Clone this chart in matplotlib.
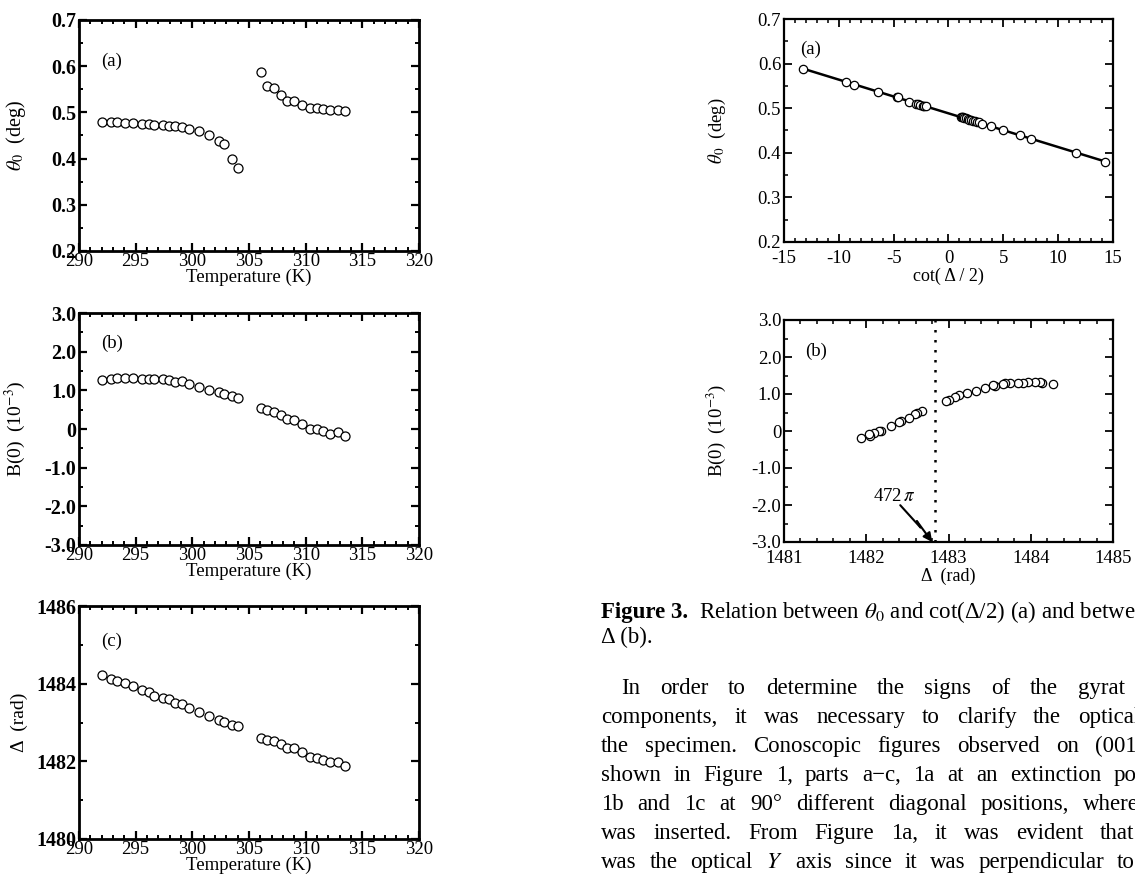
import numpy as np
import matplotlib
matplotlib.use('Agg')
import matplotlib.pyplot as plt
from matplotlib.ticker import MultipleLocator, FuncFormatter
from matplotlib.transforms import offset_copy

# ---- data ----
# temperature (K), low-T branch and high-T branch
temp_lo = [292.05, 292.79, 293.38, 294.05, 294.78, 295.55, 296.16, 296.66, 297.37, 297.95,
           298.45, 299.13, 299.74, 300.57, 301.48, 302.33, 302.83, 303.50, 304.06]
temp_hi = [306.06, 306.58, 307.20, 307.79, 308.37, 308.99, 309.70, 310.34, 310.99, 311.57,
           312.16, 312.81, 313.51]

# theta_0 (deg)
theta_lo = [0.480, 0.480, 0.480, 0.478, 0.477, 0.475, 0.474, 0.473, 0.472, 0.471,
            0.470, 0.468, 0.465, 0.460, 0.451, 0.439, 0.432, 0.399, 0.379]
theta_hi = [0.588, 0.558, 0.553, 0.537, 0.525, 0.524, 0.515, 0.509, 0.509, 0.507,
            0.506, 0.506, 0.504]

# B(0) (10^-3)
b_lo = [1.27, 1.30, 1.32, 1.32, 1.32, 1.30, 1.30, 1.29, 1.29, 1.26,
        1.22, 1.23, 1.17, 1.08, 1.02, 0.96, 0.91, 0.85, 0.81]
b_hi = [0.54, 0.48, 0.45, 0.36, 0.26, 0.24, 0.13, 0.00, -0.00, -0.06,
        -0.13, -0.08, -0.19]

# Delta (rad) vs temperature, Fig 2(c)
delta_lo = [1484.22, 1484.11, 1484.08, 1484.01, 1483.93, 1483.84, 1483.78, 1483.68, 1483.62, 1483.60,
            1483.50, 1483.48, 1483.38, 1483.28, 1483.16, 1483.07, 1483.02, 1482.94, 1482.90]
delta_hi = [1482.60, 1482.54, 1482.52, 1482.45, 1482.35, 1482.34, 1482.23, 1482.10, 1482.08, 1482.03,
            1481.97, 1481.97, 1481.87]

# Fig 3(a): cot(Delta/2) paired with theta_0
cot_lo = [1.10, 1.20, 1.30, 1.45, 1.60, 1.75, 1.90, 2.05, 2.20, 2.40,
          2.60, 2.80, 3.10, 3.85, 4.98, 6.52, 7.48, 11.66, 14.30]
cot_hi = [-13.27, -9.32, -8.58, -6.42, -4.72, -4.56, -3.60, -2.95, -2.79, -2.57,
          -2.35, -2.20, -2.09]

# Fig 3(b): Delta paired with B(0)
delta3_lo = [1484.27, 1484.14, 1484.11, 1484.05, 1483.97, 1483.90, 1483.84, 1483.75, 1483.69, 1483.66,
             1483.57, 1483.54, 1483.44, 1483.34, 1483.22, 1483.13, 1483.08, 1483.01, 1482.97]
delta3_hi = [1482.68, 1482.62, 1482.59, 1482.52, 1482.42, 1482.40, 1482.30, 1482.18, 1482.15, 1482.10,
             1482.04, 1482.03, 1481.94]

plt.rcParams.update({
    'font.family': ['Liberation Serif', 'DejaVu Serif'],
    'mathtext.fontset': 'stix',
    'axes.unicode_minus': False,
    'font.size': 13.5,
})

W, H = 1135, 884
fig = plt.figure(figsize=(W / 100, H / 100), dpi=100)


def add_ax(left, top, right, bottom):
    return fig.add_axes([left / W, 1 - bottom / H, (right - left) / W, (bottom - top) / H])


def style(ax, xmaj, xmin, ymaj, ymin, lw, xsize, ysize, yweight, xpad):
    for s in ax.spines.values():
        s.set_linewidth(lw)
    ax.xaxis.set_major_locator(MultipleLocator(xmaj))
    ax.xaxis.set_minor_locator(MultipleLocator(xmin))
    ax.yaxis.set_major_locator(MultipleLocator(ymaj))
    ax.yaxis.set_minor_locator(MultipleLocator(ymin))
    ax.tick_params(which='both', direction='in', top=True, right=True)
    ax.tick_params(which='major', length=5.5, width=lw * 0.8)
    ax.tick_params(which='minor', length=3, width=lw * 0.7)
    ax.tick_params(axis='x', pad=xpad, labelsize=xsize)
    ax.tick_params(axis='y', pad=2, labelsize=ysize)
    for t in ax.get_yticklabels():
        t.set_fontweight(yweight)


def fmt_zero(v, pos):
    return '0' if abs(v) < 1e-9 else '%.1f' % v


mk = dict(ls='none', marker='o', mfc='white', mec='black', ms=6.5, mew=0.9)
LEFT = dict(lw=2.0, xsize=13.5, ysize=14.5, yweight='bold', xpad=1.5)
RIGHT = dict(lw=1.6, xsize=13.5, ysize=13.5, yweight='normal', xpad=5.5)

# ---- left column: vs temperature ----
axa = add_ax(79, 20, 419, 251)
axa.plot(temp_lo, theta_lo, **mk)
axa.plot(temp_hi, theta_hi, **mk)
axa.set_xlim(290, 320)
axa.set_ylim(0.2, 0.7)
axa.yaxis.set_major_formatter(FuncFormatter(lambda v, p: '%.1f' % v))
style(axa, 5, 1, 0.1, 0.05, **LEFT)
axa.set_ylabel(r'$\theta_0$  (deg)', fontsize=14.5)
axa.set_xlabel('Temperature (K)', fontsize=13.5, labelpad=-1)
axa.text(0.065, 0.82, '(a)', transform=axa.transAxes, fontsize=13.5, va='center')

axb = add_ax(79, 313, 419, 545)
axb.plot(temp_lo, b_lo, **mk)
axb.plot(temp_hi, b_hi, **mk)
axb.set_xlim(290, 320)
axb.set_ylim(-3.0, 3.0)
axb.yaxis.set_major_formatter(FuncFormatter(fmt_zero))
style(axb, 5, 1, 1.0, 0.5, **LEFT)
axb.set_ylabel(r'B(0)  (10$^{-3}$)', fontsize=14)
axb.set_xlabel('Temperature (K)', fontsize=13.5, labelpad=-1)
axb.text(0.065, 0.87, '(b)', transform=axb.transAxes, fontsize=13.5, va='center')

axc = add_ax(79, 606, 419, 839)
axc.plot(temp_lo, delta_lo, **mk)
axc.plot(temp_hi, delta_hi, **mk)
axc.set_xlim(290, 320)
axc.set_ylim(1480, 1486)
axc.yaxis.set_major_formatter(FuncFormatter(lambda v, p: '%d' % v))
style(axc, 5, 1, 2, 1, **LEFT)
axc.set_ylabel('\u0394  (rad)', fontsize=14)
axc.set_xlabel('Temperature (K)', fontsize=13.5, labelpad=-1)
axc.text(0.065, 0.85, '(c)', transform=axc.transAxes, fontsize=13.5, va='center')

for ax in (axa, axb, axc):
    ax.yaxis.set_label_coords(-0.15, 0.5)

# ---- right column: Figure 3 ----
ax3a = add_ax(784, 19, 1113, 242)
cot_all = np.array(cot_lo + cot_hi)
th_all = np.array(theta_lo + theta_hi)
k, c0 = np.polyfit(cot_all, th_all, 1)
xs = np.array([cot_all.min(), cot_all.max()])
ax3a.plot(xs, k * xs + c0, color='black', lw=1.8)
ax3a.plot(cot_lo, theta_lo, **dict(mk, ms=6))
ax3a.plot(cot_hi, theta_hi, **dict(mk, ms=6))
ax3a.set_xlim(-15, 15)
ax3a.set_ylim(0.2, 0.7)
ax3a.yaxis.set_major_formatter(FuncFormatter(lambda v, p: '%.1f' % v))
ax3a.xaxis.set_major_formatter(FuncFormatter(lambda v, p: '%d' % v))
style(ax3a, 5, 1, 0.1, 0.05, **RIGHT)
ax3a.set_ylabel(r'$\theta_0$  (deg)', fontsize=13.5)
ax3a.set_xlabel('cot( \u0394 / 2)', fontsize=13, labelpad=1)
ax3a.text(0.05, 0.865, '(a)', transform=ax3a.transAxes, fontsize=13.5, va='center')

ax3b = add_ax(784, 320, 1113, 542)
ax3b.plot(delta3_lo, b_lo, **dict(mk, ms=6))
ax3b.plot(delta3_hi, b_hi, **dict(mk, ms=6))
ax3b.axvline(472 * np.pi, color='black', ls=(0, (1, 3)), lw=1.8)
ax3b.set_xlim(1481, 1485)
ax3b.set_ylim(-3.0, 3.0)
ax3b.yaxis.set_major_formatter(FuncFormatter(fmt_zero))
ax3b.xaxis.set_major_formatter(FuncFormatter(lambda v, p: '%d' % v))
style(ax3b, 1, 0.2, 1.0, 0.5, **RIGHT)
ax3b.set_ylabel(r'B(0)  (10$^{-3}$)', fontsize=13.5)
ax3b.set_xlabel('\u0394  (rad)', fontsize=13, labelpad=1)
ax3b.text(0.065, 0.86, '(b)', transform=ax3b.transAxes, fontsize=13.5, va='center')
ax3b.text(1482.34, -1.77, r'472$\,\pi$', ha='center', va='center', fontsize=13.5)

# zig-zag arrow pointing at 472 pi on the axis (offsets in points from the tip)
tip = (472 * np.pi - 0.03, -3.0)
bolt = [(-23, 26.5), (-8.5, 10.5), (-11, 15), (0, 0)]
for i, (p0, p1) in enumerate(zip(bolt[:-1], bolt[1:])):
    tr = offset_copy(ax3b.transData, fig=fig, x=p1[0], y=p1[1], units='points')
    last = i == len(bolt) - 2
    ax3b.annotate('', xy=tip, xycoords=tr,
                  xytext=(p0[0] - p1[0], p0[1] - p1[1]), textcoords='offset points',
                  arrowprops=dict(arrowstyle='-|>' if last else '-', color='black', lw=1.5,
                                  shrinkA=0, shrinkB=0, mutation_scale=13))

for ax in (ax3a, ax3b):
    ax.yaxis.set_label_coords(-0.17, 0.5)

# ---- caption and body text ----
renderer = fig.canvas.get_renderer()
TS = 16.5


def put_line(text, x0, x_last, base):
    words = text.split(' ')
    ts = [fig.text(0, 0, w, transform=None, fontsize=TS, va='baseline', ha='left')
          for w in words]
    widths = [t.get_window_extent(renderer).width for t in ts]
    gap = (x_last - x0 - sum(widths[:-1])) / max(len(words) - 1, 1)
    x = x0
    for t, w in zip(ts, widths):
        t.set_position((x, H - base))
        x += w + gap


fig_lbl = fig.text(601, H - 618, 'Figure 3.', transform=None, fontsize=TS,
                   fontweight='bold', va='baseline')
lbl_w = fig_lbl.get_window_extent(renderer).width
fig.text(601 + lbl_w + 11, H - 618,
         'Relation between $\\theta_0$ and cot(\u0394/2) (a) and betwe',
         transform=None, fontsize=TS, va='baseline')
fig.text(601, H - 643, '\u0394 (b).', transform=None, fontsize=TS, va='baseline')

body = [
    ('In order to determine the signs of the gyrat', 621, 1078),
    ('components, it was necessary to clarify the optical', 601, 1078),
    ('the specimen. Conoscopic figures observed on (001', 601, 1095),
    ('shown in Figure 1, parts a\u2212c, 1a at an extinction po', 601, 1114),
    ('1b and 1c at 90\u00b0 different diagonal positions, where', 601, 1083),
    ('was inserted. From Figure 1a, it was evident that', 601, 1100),
    ('was the optical $Y$ axis since it was perpendicular to', 601, 1117),
]
for i, (line, x0, xl) in enumerate(body):
    put_line(line, x0, xl, 694 + 29 * i)

fig.savefig('out.png', dpi=100)
